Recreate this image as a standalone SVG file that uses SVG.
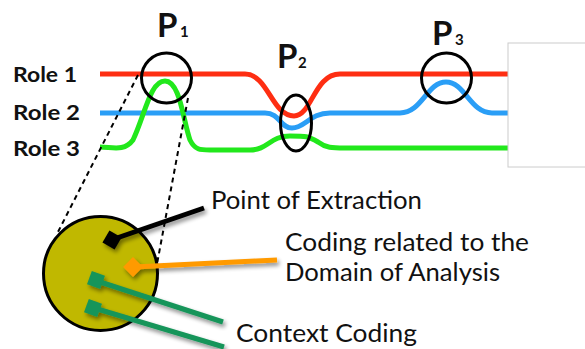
<svg xmlns="http://www.w3.org/2000/svg" width="585" height="349" viewBox="0 0 585 349">
  <defs>
    <style>
      .role { font-family: Lato, "Open Sans", "Liberation Sans", sans-serif; font-weight: bold; font-size: 21px; fill: #111; }
      .pbig { font-family: Lato, "Open Sans", "Liberation Sans", sans-serif; font-weight: bold; font-size: 33px; fill: #111; }
      .psub { font-family: Lato, "Open Sans", "Liberation Sans", sans-serif; font-weight: bold; font-size: 15px; fill: #111; }
      .lbl { font-family: Lato, "Open Sans", "Liberation Sans", sans-serif; font-size: 24.5px; fill: #111; }
      .track { fill: none; stroke-width: 5; stroke-linecap: butt; stroke-linejoin: round; }
      .ring { fill: none; stroke: #000; stroke-width: 3; }
      .dash { fill: none; stroke: #000; stroke-width: 2; stroke-dasharray: 5 4; }
      .lead { fill: none; stroke-width: 5; }
    </style>
    <filter id="shadow" x="-20%" y="-20%" width="150%" height="150%">
      <feGaussianBlur in="SourceAlpha" stdDeviation="2"/>
      <feOffset dx="2" dy="3" result="off"/>
      <feComponentTransfer><feFuncA type="linear" slope="0.45"/></feComponentTransfer>
      <feMerge><feMergeNode/><feMergeNode in="SourceGraphic"/></feMerge>
    </filter>
  </defs>

  <rect width="585" height="349" fill="#fff"/>

  <!-- role labels -->
  <g id="roles">
    <text class="role" x="13" y="82" textLength="64" lengthAdjust="spacingAndGlyphs">Role 1</text>
    <text class="role" x="13" y="120" textLength="67" lengthAdjust="spacingAndGlyphs">Role 2</text>
    <text class="role" x="13" y="156" textLength="67" lengthAdjust="spacingAndGlyphs">Role 3</text>
  </g>

  <!-- role tracks -->
  <g id="tracks">
    <path class="track" stroke="#fe2e12" d="M100,74 H245 C268,74 272,116 294,116 C312,116 314,74 340,74 H508"/>
    <path class="track" stroke="#2a9ef6" d="M100,113 H265 C280,113 280,128 292,128 C305,128 310,113 330,113 H400 C422,113 427,82 446,82 C465,82 470,113 492,113 H508"/>
    <path class="track" stroke="#22e81c" d="M100,147 C112,147 124,152 133,140 C145,115 150,81 165,81 C180,81 183,120 190,140 C195,150 200,150 210,150 H250 C268,150 270,136 290,136 C306,136 308,136 318,142 C326,148 332,148 345,148 H508"/>
  </g>

  <!-- right panel -->
  <g id="panel">
    <rect x="508" y="43" width="82" height="124" fill="#fff" stroke="#cccccc" stroke-width="1"/>
  </g>

  <!-- points -->
  <g id="p1">
    <circle class="ring" cx="166.5" cy="78" r="25"/>
    <text class="pbig" x="157" y="37">P</text>
    <text class="psub" x="180" y="37">1</text>
  </g>
  <g id="p2">
    <ellipse class="ring" cx="296" cy="123" rx="15.5" ry="28"/>
    <text class="pbig" x="277" y="68">P</text>
    <text class="psub" x="298" y="68">2</text>
  </g>
  <g id="p3">
    <circle class="ring" cx="446.5" cy="78" r="25"/>
    <text class="pbig" x="432" y="45">P</text>
    <text class="psub" x="455" y="45">3</text>
  </g>

  <!-- connectors -->
  <g id="connectors">
    <line class="dash" x1="138" y1="75" x2="58" y2="232"/>
    <line class="dash" x1="188" y1="98" x2="157" y2="264"/>
  </g>

  <!-- magnified point -->
  <g id="detail">
    <circle cx="100.5" cy="273.5" r="57" fill="#c0b800" stroke="#000" stroke-width="3"/>
  </g>

  <g id="markers" filter="url(#shadow)">
    <line class="lead" stroke="#000" x1="114" y1="239" x2="204" y2="208"/>
    <rect x="105" y="233" width="14" height="14" fill="#000" transform="rotate(30 112 240)"/>
    <line class="lead" stroke="#ff9a00" x1="134" y1="267" x2="277" y2="260"/>
    <rect x="126" y="260" width="14" height="14" fill="#ff9a00" transform="rotate(45 133 267)"/>
    <line class="lead" stroke="#17955a" x1="97" y1="281" x2="223" y2="322"/>
    <rect x="89" y="273" width="14" height="14" fill="#17955a" transform="rotate(20 96 280)"/>
    <line class="lead" stroke="#17955a" x1="94" y1="308" x2="224" y2="347"/>
    <rect x="86" y="301" width="14" height="14" fill="#17955a" transform="rotate(20 93 308)"/>
  </g>

  <g id="labels">
    <text class="lbl" x="211" y="209" textLength="211" lengthAdjust="spacingAndGlyphs">Point of Extraction</text>
    <text class="lbl" x="285" y="251" textLength="244" lengthAdjust="spacingAndGlyphs">Coding related to the</text>
    <text class="lbl" x="285" y="281" textLength="215" lengthAdjust="spacingAndGlyphs">Domain of Analysis</text>
    <text class="lbl" x="236" y="342" textLength="181" lengthAdjust="spacingAndGlyphs">Context Coding</text>
  </g>
</svg>
